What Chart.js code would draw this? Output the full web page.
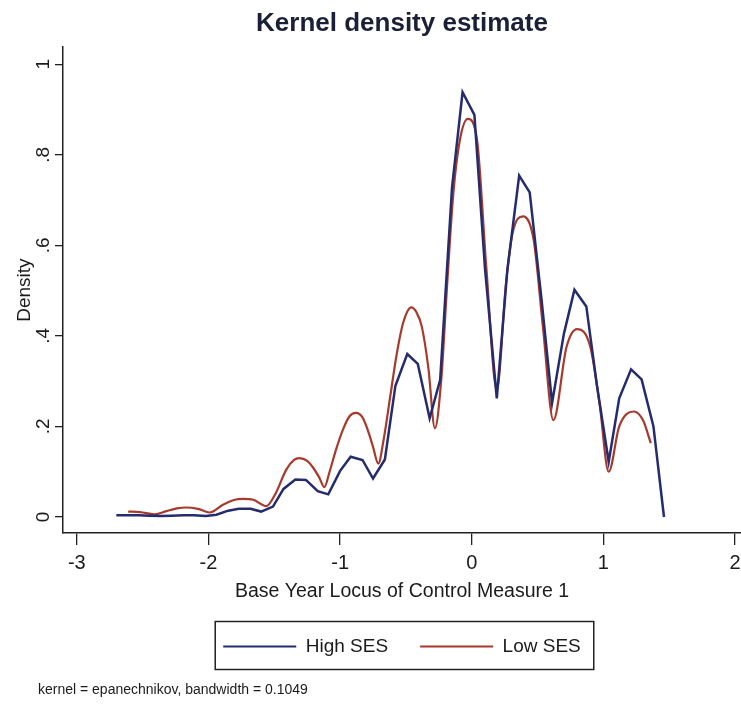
<!DOCTYPE html>
<html>
<head>
<meta charset="utf-8">
<script src="https://cdn.jsdelivr.net/npm/chart.js@4.4.0/dist/chart.umd.min.js"></script>
<style>
    body { margin: 0; background: #fff; }
    #wrap { width: 741px; height: 707px; }
</style>
</head>
<body>
<div id="wrap"><canvas id="kdChart"></canvas></div>
<script>
// values
const highX = [-2.70, -2.62, -2.53, -2.45, -2.36, -2.28, -2.19, -2.11, -2.02, -1.94,
    -1.85, -1.77, -1.68, -1.60, -1.51, -1.43, -1.34, -1.26, -1.17, -1.09,
    -1.00, -0.92, -0.83, -0.75, -0.66, -0.58, -0.49, -0.41, -0.32, -0.24,
    -0.15, -0.07, 0.02, 0.10, 0.19, 0.27, 0.36, 0.44, 0.53, 0.61,
    0.70, 0.78, 0.87, 0.95, 1.04, 1.12, 1.21, 1.29, 1.38, 1.46];
const highY = [0.004, 0.004, 0.004, 0.003, 0.002, 0.003, 0.004, 0.004, 0.002, 0.005,
    0.014, 0.018, 0.018, 0.012, 0.023, 0.062, 0.083, 0.082, 0.057, 0.050,
    0.102, 0.133, 0.126, 0.085, 0.127, 0.290, 0.360, 0.338, 0.218, 0.303,
    0.728, 0.938, 0.888, 0.550, 0.262, 0.545, 0.754, 0.717, 0.480, 0.252,
    0.405, 0.502, 0.465, 0.292, 0.122, 0.262, 0.326, 0.304, 0.200, 0.000];

const lowX = [-2.61, -2.52, -2.41, -2.32, -2.24, -2.17, -2.08, -1.99, -1.89, -1.80,
    -1.74, -1.66, -1.56, -1.49, -1.41, -1.35, -1.31, -1.25, -1.21, -1.16,
    -1.12, -1.08, -1.03, -0.98, -0.93, -0.88, -0.83, -0.79, -0.75, -0.71,
    -0.67, -0.62, -0.57, -0.52, -0.46, -0.42, -0.38, -0.33, -0.28, -0.23,
    -0.19, -0.14, -0.09, -0.03, 0.04, 0.11, 0.19, 0.26, 0.31, 0.39,
    0.47, 0.54, 0.62, 0.72, 0.80, 0.90, 0.97, 1.04, 1.12, 1.23,
    1.30, 1.36];
const lowY = [0.012, 0.011, 0.006, 0.013, 0.019, 0.021, 0.018, 0.010, 0.027, 0.038,
    0.040, 0.038, 0.024, 0.052, 0.104, 0.126, 0.130, 0.124, 0.111, 0.088,
    0.066, 0.100, 0.150, 0.192, 0.222, 0.230, 0.220, 0.192, 0.155, 0.118,
    0.170, 0.265, 0.360, 0.430, 0.463, 0.452, 0.421, 0.330, 0.196, 0.310,
    0.500, 0.715, 0.833, 0.879, 0.833, 0.553, 0.281, 0.516, 0.627, 0.664,
    0.612, 0.421, 0.214, 0.376, 0.415, 0.376, 0.252, 0.100, 0.200, 0.233,
    0.214, 0.163];

const xTicks = [-3, -2, -1, 0, 1, 2];
const yTicks = [0, 0.2, 0.4, 0.6, 0.8, 1];
const yTickLabels = ['0', '.2', '.4', '.6', '.8', '1'];

const FONT = '"Liberation Sans Narrow", "Arial Narrow", "Liberation Sans", Arial, sans-serif';
const INK = '#1b1b1b';

const toPoints = (xs, ys) => xs.map((x, i) => ({ x: x, y: ys[i] }));

// frame round the legend, like Stata draws it
const legendFrame = {
    id: 'legendFrame',
    afterDraw(chart) {
        const boxes = chart.legend.legendHitBoxes;
        if (!boxes || !boxes.length) return;
        const left = Math.min(...boxes.map(b => b.left)) - 8;
        const right = Math.max(...boxes.map(b => b.left + b.width)) + 13;
        const mid = boxes[0].top + boxes[0].height / 2;
        const ctx = chart.ctx;
        ctx.save();
        ctx.strokeStyle = '#222';
        ctx.lineWidth = 1.5;
        ctx.strokeRect(left, mid - 25, right - left, 48);
        ctx.restore();
    }
};

// note under the legend
const noteText = {
    id: 'noteText',
    afterDraw(chart) {
        const ctx = chart.ctx;
        ctx.save();
        ctx.font = '14px ' + FONT;
        ctx.fillStyle = INK;
        ctx.textBaseline = 'middle';
        ctx.fillText('kernel = epanechnikov, bandwidth = 0.1049', 38, chart.height - 17);
        ctx.restore();
    }
};

document.addEventListener('DOMContentLoaded', function() {
    const ctx = document.querySelector('#kdChart').getContext('2d');
    new Chart(ctx, {
        type: 'line',
        data: {
            datasets: [{
                label: 'High SES',
                data: toPoints(highX, highY),
                borderColor: '#252c6e',
                backgroundColor: '#252c6e',
                borderWidth: 2.5,
                tension: 0,
                pointRadius: 0
            }, {
                label: 'Low SES',
                data: toPoints(lowX, lowY),
                borderColor: '#a63a2c',
                backgroundColor: '#a63a2c',
                borderWidth: 2.2,
                cubicInterpolationMode: 'monotone',
                pointRadius: 0
            }]
        },
        options: {
            responsive: true,
            maintainAspectRatio: false,
            animation: false,
            layout: { padding: { left: 0, right: 0, top: 0, bottom: 41 } },
            plugins: {
                title: {
                    display: true,
                    fullSize: false,
                    text: 'Kernel density estimate',
                    color: '#1c2036',
                    font: { family: FONT, size: 26, weight: 'bold' },
                    padding: { top: 8, bottom: 8 }
                },
                legend: {
                    position: 'bottom',
                    fullSize: false,
                    labels: {
                        boxWidth: 73,
                        boxHeight: 2,
                        padding: 32,
                        color: INK,
                        font: { family: FONT, size: 19 },
                        generateLabels: chart => Chart.defaults.plugins.legend.labels.generateLabels(chart)
                            .map(l => Object.assign(l, { lineWidth: 0 }))
                    }
                },
                tooltip: { enabled: false }
            },
            scales: {
                x: {
                    type: 'linear',
                    min: -3.105,
                    max: 2.045,
                    afterBuildTicks: s => { s.ticks = xTicks.map(v => ({ value: v })); },
                    afterFit: s => { s.height = 72; s.paddingLeft = 0; s.paddingRight = 0; },
                    grid: { drawOnChartArea: false, tickLength: 12, color: '#222', lineWidth: 1.3 },
                    border: { color: '#222', width: 1.5 },
                    ticks: {
                        color: INK,
                        padding: 6,
                        maxRotation: 0,
                        font: { family: FONT, size: 20 },
                        callback: v => String(v)
                    },
                    title: {
                        display: true,
                        text: 'Base Year Locus of Control Measure 1',
                        color: INK,
                        font: { family: FONT, size: 19.5 },
                        padding: { top: 0, bottom: 2 }
                    }
                },
                y: {
                    min: -0.0353,
                    max: 1.0375,
                    afterBuildTicks: s => { s.ticks = yTicks.map(v => ({ value: v })); },
                    afterFit: s => { s.width = 63; s.paddingTop = 0; s.paddingBottom = 0; },
                    grid: { drawOnChartArea: false, tickLength: 8, color: '#222', lineWidth: 1.3 },
                    border: { color: '#222', width: 1.5 },
                    ticks: {
                        color: INK,
                        padding: 3,
                        minRotation: 90,
                        maxRotation: 90,
                        crossAlign: 'center',
                        font: { family: FONT, size: 19 },
                        callback: v => yTickLabels[yTicks.indexOf(v)]
                    },
                    title: {
                        display: true,
                        text: 'Density',
                        color: INK,
                        font: { family: FONT, size: 19 },
                        padding: { top: 13, bottom: 0 }
                    }
                }
            }
        },
        plugins: [legendFrame, noteText]
    });
});
</script>
</body>
</html>
